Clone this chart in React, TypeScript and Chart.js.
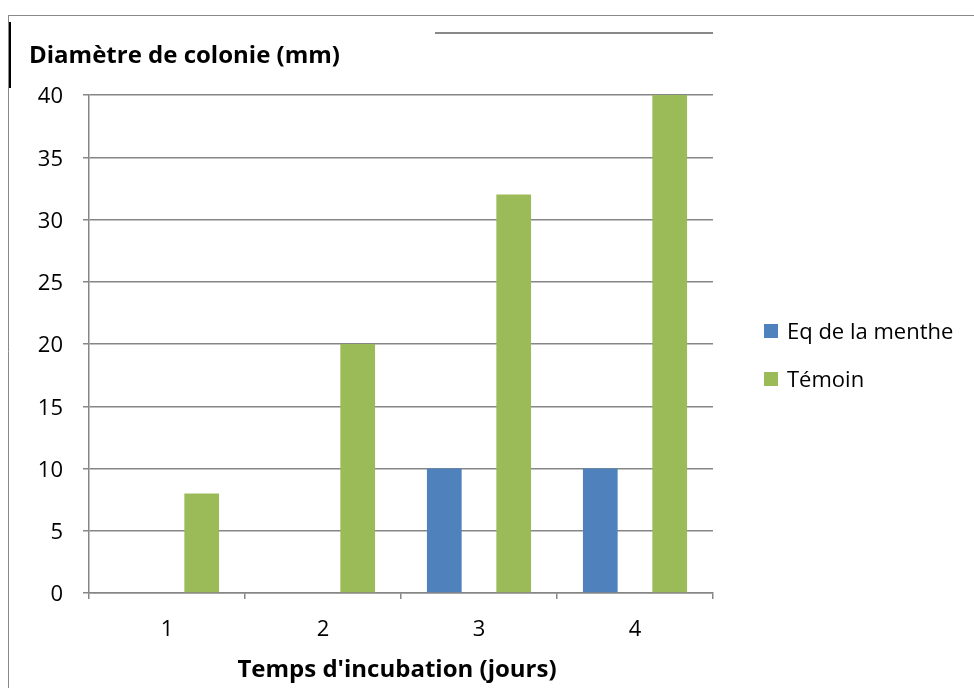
import React, { useEffect, useRef } from "react";
import { Chart, registerables } from "chart.js";

Chart.register(...registerables);

const categories = ["1", "2", "3", "4"];
const seriesNames = ["Eq de la menthe", "Témoin"];
const eqMenthe = [0, 0, 10, 10];
const temoin = [8, 20, 32, 40];
const yMin = 0;
const yMax = 40;
const yStep = 5;
const yTitle = "Diamètre de colonie (mm)";
const xTitle = "Temps d'incubation (jours)";
const seriesColors = ["#4F81BD", "#9BBB59"];

const FONT = "'Open Sans', Lato, sans-serif";
const GRID = "#868686";

const framePlugin = {
  id: "frame",
  beforeDraw(chart: any) {
    const ctx = chart.ctx;
    ctx.save();
    ctx.fillStyle = "#ffffff";
    ctx.fillRect(0, 0, chart.width, chart.height);
    ctx.strokeStyle = "#888888";
    ctx.lineWidth = 1;
    ctx.beginPath();
    ctx.moveTo(8, 15.5);
    ctx.lineTo(chart.width, 15.5);
    ctx.moveTo(8.5, 15);
    ctx.lineTo(8.5, chart.height);
    ctx.stroke();
    ctx.lineWidth = 2;
    ctx.beginPath();
    ctx.moveTo(435, 33);
    ctx.lineTo(chart.chartArea.right, 33);
    ctx.stroke();
    ctx.strokeStyle = "#000000";
    ctx.lineWidth = 2;
    ctx.beginPath();
    ctx.moveTo(10, 22);
    ctx.lineTo(10, 88);
    ctx.stroke();
    ctx.restore();
  },
};

const titlesLegendPlugin = {
  id: "titlesLegend",
  afterDraw(chart: any) {
    const ctx = chart.ctx;
    ctx.save();
    ctx.fillStyle = "#000";
    ctx.font = `bold 24px ${FONT}`;
    ctx.textAlign = "left";
    ctx.textBaseline = "alphabetic";
    ctx.fillText(yTitle, 29, 63);

    const xs = chart.scales.x;
    ctx.textAlign = "center";
    ctx.fillText(xTitle, (xs.left + xs.right) / 2 - 4, 677);

    ctx.font = `22px ${FONT}`;
    ctx.textAlign = "left";
    const baselines = [339, 387];
    chart.data.datasets.forEach((ds: any, i: number) => {
      const b = baselines[i];
      ctx.fillStyle = ds.backgroundColor;
      ctx.fillRect(764, b - 15, 14, 14);
      ctx.fillStyle = "#000";
      ctx.fillText(ds.label, 787, b);
    });
    ctx.restore();
  },
};

export default function App() {
  const ref = useRef<HTMLCanvasElement | null>(null);
  useEffect(() => {
    if (!ref.current) return;
    const chart = new Chart(ref.current, {
      type: "bar",
      data: {
        labels: categories,
        datasets: [
          { label: seriesNames[0], data: eqMenthe, backgroundColor: seriesColors[0] },
          { label: seriesNames[1], data: temoin, backgroundColor: seriesColors[1] },
        ],
      },
      options: {
        animation: false,
        responsive: false,
        devicePixelRatio: 1,
        layout: { padding: { left: 0, top: 95, right: 261, bottom: 0 } },
        datasets: { bar: { barPercentage: 0.5, categoryPercentage: 0.89 } },
        plugins: {
          legend: { display: false },
          tooltip: { enabled: false },
          title: { display: false },
        },
        scales: {
          x: {
            type: "category",
            offset: true,
            grid: { offset: true, drawOnChartArea: false, drawTicks: true, tickLength: 6, color: GRID, lineWidth: 1.5 },
            border: { display: true, color: GRID, width: 1.5 },
            ticks: { color: "#000", font: { family: FONT, size: 22 }, padding: 18 },
            afterFit(scale: any) {
              scale.height = 95;
            },
          },
          y: {
            min: yMin,
            max: yMax,
            ticks: { stepSize: yStep, color: "#000", font: { family: FONT, size: 22 }, padding: 20, labelOffset: 2 },
            grid: { color: GRID, lineWidth: 1.5, drawTicks: true, tickLength: 6 },
            border: { display: true, color: GRID, width: 1.5 },
            afterFit(scale: any) {
              scale.width = 89;
            },
          },
        },
      },
      plugins: [framePlugin, titlesLegendPlugin],
    } as any);
    return () => chart.destroy();
  }, []);
  return (
    <div style={{ position: "absolute", left: 0, top: 0, width: 974, height: 688 }}>
      <canvas ref={ref} width={974} height={688} style={{ display: "block" }} />
    </div>
  );
}
